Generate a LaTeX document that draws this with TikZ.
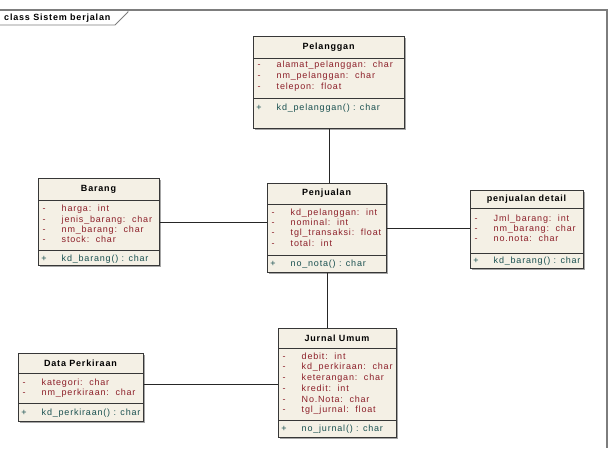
\documentclass[tikz,border=0pt]{standalone}
\usepackage{fontspec}
\setmainfont{Liberation Sans}
\newfontfamily\umlfont[LetterSpace=9]{Liberation Sans}
\usetikzlibrary{shadows}
\definecolor{boxfill}{RGB}{244,240,229}
\definecolor{boxline}{RGB}{55,55,55}
\definecolor{attrcol}{RGB}{140,30,40}
\definecolor{opcol}{RGB}{25,80,80}
\definecolor{framecol}{RGB}{125,125,125}
\tikzset{
  classbox/.style={draw=boxline, line width=0.8pt, fill=boxfill, anchor=north west, inner sep=0pt,
    drop shadow={shadow xshift=2pt, shadow yshift=-2pt, fill=black, opacity=0.35}},
  sepline/.style={draw=boxline, line width=0.8pt},
  titletext/.style={font=\umlfont\bfseries\fontsize{9}{10}\selectfont, inner sep=0pt},
  attrtext/.style={font=\umlfont\fontsize{9}{10}\selectfont, text=attrcol, anchor=base west, inner sep=0pt},
  attrsign/.style={font=\umlfont\fontsize{9}{10}\selectfont, text=attrcol, anchor=base, inner sep=0pt},
  optext/.style={font=\umlfont\fontsize{9}{10}\selectfont, text=opcol, anchor=base west, inner sep=0pt},
  opsign/.style={font=\umlfont\fontsize{9}{10}\selectfont, text=opcol, anchor=base, inner sep=0pt},
  conn/.style={draw=black!85, line width=0.8pt},
  framestyle/.style={draw=framecol, line width=1.2pt},
}
% #1 id, #2 left, #3 top, #4 right, #5 sep1, #6 sep2, #7 bottom, #8 title
\newcommand\umlclass[8]{%
  \node[classbox, minimum width={(#4-#2)*1pt}, minimum height={(#7-#3)*1pt}] (#1) at (#2,#3) {};
  \draw[sepline] (#1.west |- 0,#5) -- (#1.east |- 0,#5);
  \draw[sepline] (#1.west |- 0,#6) -- (#1.east |- 0,#6);
  \node[titletext] (#1-t) at ({(#2+#4)/2},{(#3+#5)/2}) {#8};
}
% #1 id, #2 left, #3 first y (centre), #4 spacing, #5 list
\newcommand\umlattrs[5]{%
  \foreach \t [count=\i] in {#5} {
    \node[attrsign] (#1-s\i) at ({#2+6},{#3+3.2+(\i-1)*#4}) {-};
    \node[attrtext] (#1-a\i) at ({#2+23.5},{#3+3.2+(\i-1)*#4}) {\t};
  }
}
% #1 id, #2 left, #3 y (centre), #4 text
\newcommand\umlop[4]{%
  \node[opsign] (#1-ps) at ({#2+6},{#3+3.2}) {+};
  \node[optext] (#1-o) at ({#2+23.5},{#3+3.2}) {#4};
}
\begin{document}
\begin{tikzpicture}[x=1pt,y=-1pt]
\useasboundingbox (0,0) rectangle (609,448);
% frame
\draw[framestyle] (0,10) -- (607,10) -- (607,448);
\draw[framestyle, line width=0.9pt] (0,25) -- (115,25) -- (128,12) -- (128,10);
\node[font=\umlfont\bfseries\fontsize{9}{10}\selectfont, anchor=west, inner sep=0pt] (frametitle) at (4,18) {class Sistem berjalan};

% Pelanggan
\umlclass{pel}{253}{36}{404}{58}{98}{128}{Pelanggan}
\umlattrs{pel}{253}{64}{11}{alamat\_pelanggan:\ \ char, nm\_pelanggan:\ \ char, telepon:\ \ float}
\umlop{pel}{253}{107}{kd\_pelanggan() : char}

% Barang
\umlclass{bar}{38}{178}{159}{200}{250}{265}{Barang}
\umlattrs{bar}{38}{208.5}{10.3}{harga:\ \ int, jenis\_barang:\ \ char, nm\_barang:\ \ char, stock:\ \ char}
\umlop{bar}{38}{258.5}{kd\_barang() : char}

% Penjualan
\umlclass{pen}{267}{183}{386}{204}{255}{272}{Penjualan}
\umlattrs{pen}{267}{212}{10.3}{kd\_pelanggan:\ \ int, nominal:\ \ int, tgl\_transaksi:\ \ float, total:\ \ int}
\umlop{pen}{267}{263.5}{no\_nota() : char}

% penjualan detail
\umlclass{det}{470}{190}{583}{208}{253}{268}{penjualan detail}
\umlattrs{det}{470}{218}{10}{Jml\_barang:\ \ int, nm\_barang:\ \ char, no.nota:\ \ char}
\umlop{det}{470}{260.5}{kd\_barang() : char}

% Jurnal Umum
\umlclass{jur}{278}{328}{396}{348}{420}{437}{Jurnal Umum}
\umlattrs{jur}{278}{356}{10.7}{debit:\ \ int, kd\_perkiraan:\ \ char, keterangan:\ \ char, kredit:\ \ int, No.Nota:\ \ char, tgl\_jurnal:\ \ float}
\umlop{jur}{278}{428.5}{no\_jurnal() : char}

% Data Perkiraan
\umlclass{dp}{18}{353}{143}{373}{403}{421}{Data Perkiraan}
\umlattrs{dp}{18}{382}{10}{kategori:\ \ char, nm\_perkiraan:\ \ char}
\umlop{dp}{18}{412}{kd\_perkiraan() : char}

% connectors
\draw[conn] (pel.south) -- (pel.south |- pen.north);
\draw[conn] (bar.east |- 0,222) -- (pen.west |- 0,222);
\draw[conn] (pen.east |- 0,228) -- (det.west |- 0,228);
\draw[conn] (pen.south) -- (pen.south |- jur.north);
\draw[conn] (dp.east |- 0,384) -- (jur.west |- 0,384);
\end{tikzpicture}
\end{document}
